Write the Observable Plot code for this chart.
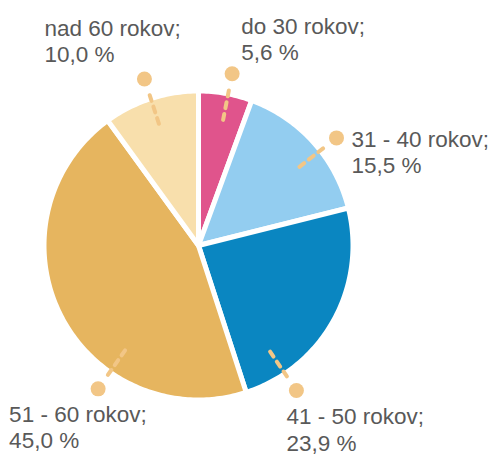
<!DOCTYPE html>
<html><head><meta charset="utf-8">
<script src="https://cdn.jsdelivr.net/npm/d3@7"></script>
<script src="https://cdn.jsdelivr.net/npm/@observablehq/plot@0.6"></script>
<style>body{margin:0;background:#fff}</style>
</head><body><div id="chart"></div>
<script>
// ---- data ----
const categories = ["do 30 rokov", "31 - 40 rokov", "41 - 50 rokov", "51 - 60 rokov", "nad 60 rokov"];
const shares = [5.6, 15.5, 23.9, 45.0, 10.0];
const sliceColors = ["#e0548c", "#93cdf0", "#0a86c1", "#e6b55f", "#f8dfac"];

// ---- layout (pixels / degrees) ----
const W = 494, H = 454, CX = 198, CY = 245, R = 152;
const STROKE = 5;
const TEXT_SHIFT = -4;
const labelLayout = {
  "do 30 rokov":   {shift: 1,   dx: 9,    dy: -55},
  "31 - 40 rokov": {shift: 4,   dx: 15,   dy: -6},
  "41 - 50 rokov": {shift: 27,  dx: -10,  dy: 19},
  "51 - 60 rokov": {shift: -28, dx: -89,  dy: 18},
  "nad 60 rokov":  {shift: 0,   dx: -100, dy: -58}
};

const arcs = d3.pie().sort(null).value(d => d)(shares);
const rFill = 1 + (STROKE / 2) / R;
const deg = Math.PI / 180;

const slicePts = [];
arcs.forEach((p, i) => {
  const k = categories[i];
  slicePts.push({k, x: 0, y: 0});
  const n = Math.max(2, Math.ceil((p.endAngle - p.startAngle) / deg));
  for (let j = 0; j <= n; j++) {
    const a = p.startAngle + (p.endAngle - p.startAngle) * j / n;
    slicePts.push({k, x: rFill * Math.sin(a), y: rFill * Math.cos(a)});
  }
  slicePts.push({k, x: 0, y: 0});
});

const fmt = v => v.toFixed(1).replace(".", ",") + " %";
const labels = arcs.map((p, i) => {
  const k = categories[i];
  const L = labelLayout[k];
  const a = (p.startAngle + p.endAngle) / 2 + L.shift * deg;
  const s = Math.sin(a), c = Math.cos(a);
  const r1 = 128 / R, r2 = 161 / R, rd = 175 / R;
  const dxu = rd * s, dyu = rd * c;
  return {
    k,
    x1: r1 * s, y1: r1 * c, x2: r2 * s, y2: r2 * c,
    dx: dxu, dy: dyu,
    tx: dxu + L.dx / R, ty: dyu - (L.dy + TEXT_SHIFT) / R,
    text: k + ";\n" + fmt(shares[i])
  };
});

const leaderColor = "#f2c686";

const chart = Plot.plot({
  width: W, height: H, margin: 0,
  x: {axis: null, domain: [-CX / R, (W - CX) / R], range: [0, W]},
  y: {axis: null, domain: [-(H - CY) / R, CY / R], range: [H, 0]},
  color: {domain: categories, range: sliceColors},
  style: {fontFamily: "'Liberation Sans', Arial, sans-serif", background: "#fff"},
  marks: [
    Plot.line(slicePts, {x: "x", y: "y", z: "k", fill: "k", stroke: "#fff", strokeWidth: STROKE, strokeLinejoin: "round", curve: "linear"}),
    Plot.link(labels, {x1: "x1", y1: "y1", x2: "x2", y2: "y2", stroke: leaderColor, strokeWidth: 4, strokeLinecap: "round", strokeDasharray: "6,6"}),
    Plot.dot(labels, {x: "dx", y: "dy", r: 7.5, fill: leaderColor, stroke: null}),
    Plot.text(labels, {x: "tx", y: "ty", text: "text", textAnchor: "start", lineAnchor: "top", lineHeight: 1.18, fontSize: 22.5, fill: "#595959"})
  ]
});
document.getElementById("chart").appendChild(chart);
</script>
</body></html>
